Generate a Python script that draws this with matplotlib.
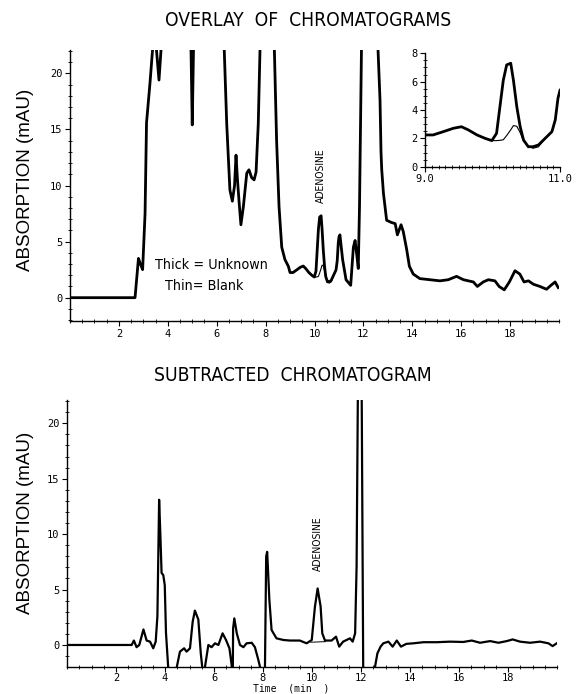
import matplotlib
matplotlib.use("Agg")
import matplotlib.pyplot as plt
from matplotlib.ticker import MultipleLocator, FixedLocator
from matplotlib import font_manager
from matplotlib.font_manager import FontProperties

# ---------------- data ----------------
t_top = [0.0, 2.66, 2.72, 2.80, 2.88, 2.97, 3.07, 3.13, 3.27, 3.38, 3.46, 3.54, 3.64, 3.72, 3.80,
         4.85, 4.95, 5.00, 5.05, 5.12, 6.20, 6.31, 6.41, 6.54, 6.64, 6.73, 6.79, 6.85, 6.91, 6.99,
         7.09, 7.23, 7.32, 7.43, 7.53, 7.61, 7.70, 7.77, 7.85, 8.28, 8.36, 8.45, 8.55, 8.66, 8.79,
         8.93, 9.00, 9.12, 9.27, 9.42, 9.54, 9.64, 9.77, 9.89, 9.99, 10.06, 10.11, 10.16, 10.21,
         10.27, 10.31, 10.36, 10.41, 10.46, 10.53, 10.60, 10.68, 10.78, 10.88, 10.93, 10.97, 11.00,
         11.04, 11.15, 11.29, 11.48, 11.59, 11.66, 11.72, 11.79, 11.84, 11.88, 11.92, 12.00, 12.50,
         12.60, 12.68, 12.72, 12.75, 12.82, 12.95, 13.15, 13.30, 13.39, 13.54, 13.63, 13.77, 13.88,
         14.04, 14.31, 14.72, 15.13, 15.47, 15.81, 16.09, 16.50, 16.66, 16.90, 17.11, 17.38, 17.55,
         17.76, 17.97, 18.20, 18.40, 18.57, 18.75, 18.95, 19.22, 19.49, 19.67, 19.84, 19.97]

unknown_top = [0.0, 0.0, 1.5, 3.5, 3.0, 2.5, 7.5, 15.6, 19.1, 22.2, 24.0, 22.0, 19.4, 22.0, 30,
               30, 22.0, 15.4, 22.0, 30, 30, 22.0, 15.5, 9.6, 8.6, 10.0, 12.7, 10.5, 8.7, 6.5,
               8.1, 11.1, 11.4, 10.7, 10.5, 11.2, 15.5, 22.0, 30, 30, 22.0, 14.0, 8.1, 4.5, 3.4,
               2.8, 2.24, 2.24, 2.47, 2.71, 2.82, 2.6, 2.24, 2.0, 1.84, 2.35, 4.23, 6.1, 7.18,
               7.3, 6.1, 4.23, 2.82, 1.88, 1.41, 1.41, 1.53, 2.0, 2.47, 3.3, 4.83, 5.4,
               5.6, 3.4, 1.6, 1.1, 4.5, 5.1, 4.0, 2.6, 8.0, 15.0, 22.0, 30, 30,
               22.0, 17.6, 13.0, 11.4, 9.3, 6.9, 6.7, 6.6, 5.6, 6.5, 5.9, 4.3, 2.8,
               2.1, 1.7, 1.6, 1.5, 1.6, 1.9, 1.6, 1.4, 1.0, 1.4, 1.6, 1.5, 1.0,
               0.7, 1.4, 2.4, 2.1, 1.4, 1.5, 1.2, 1.0, 0.75, 1.1, 1.4, 0.9]

blank_top = [0.0, 0.0, 1.5, 3.5, 3.0, 2.5, 7.5, 15.6, 19.1, 22.2, 24.0, 22.0, 19.4, 22.0, 30,
             30, 22.0, 15.4, 22.0, 30, 30, 22.0, 15.5, 9.6, 8.6, 10.0, 12.7, 10.5, 8.7, 6.5,
             8.1, 11.1, 11.4, 10.7, 10.5, 11.2, 15.5, 22.0, 30, 30, 22.0, 14.0, 8.1, 4.5, 3.4,
             2.8, 2.24, 2.24, 2.47, 2.71, 2.82, 2.6, 2.24, 2.0, 1.84, 1.84, 1.86, 1.9, 2.2,
             2.6, 2.9, 2.85, 2.4, 1.8, 1.45, 1.3, 1.4, 2.0, 2.47, 3.3, 4.83, 5.4,
             5.6, 3.4, 1.6, 1.1, 4.5, 5.1, 4.0, 2.6, 8.0, 15.0, 22.0, 30, 30,
             22.0, 17.6, 13.0, 11.4, 9.3, 6.9, 6.7, 6.6, 5.6, 6.5, 5.9, 4.3, 2.8,
             2.1, 1.7, 1.6, 1.5, 1.6, 1.9, 1.6, 1.4, 1.0, 1.4, 1.6, 1.5, 1.0,
             0.7, 1.4, 2.4, 2.1, 1.4, 1.5, 1.2, 1.0, 0.75, 1.1, 1.4, 0.9]

t_sub = [0.0, 2.64, 2.73, 2.84, 2.95, 3.12, 3.25, 3.39, 3.52, 3.62, 3.69, 3.76, 3.81, 3.86, 3.93,
         3.99, 4.04, 4.13, 4.18, 4.43, 4.48, 4.61, 4.78, 4.88, 5.02, 5.13, 5.22, 5.36, 5.46, 5.52,
         5.55, 5.60, 5.63, 5.77, 5.90, 6.04, 6.18, 6.35, 6.49, 6.63, 6.72, 6.745, 6.765, 6.78, 6.83,
         6.93, 7.06, 7.20, 7.33, 7.54, 7.67, 7.81, 7.88, 7.92, 8.06, 8.08, 8.13, 8.17, 8.21, 8.26,
         8.35, 8.55, 8.83, 9.10, 9.50, 9.78, 9.99, 10.12, 10.23, 10.35, 10.42, 10.53, 10.80, 10.98,
         11.11, 11.27, 11.55, 11.66, 11.76, 11.82, 11.87, 11.92, 12.00, 12.03, 12.09, 12.12, 12.52,
         12.57, 12.67, 12.80, 12.91, 13.12, 13.29, 13.46, 13.63, 13.85, 14.14, 14.55, 15.10, 15.63,
         16.17, 16.52, 16.86, 17.27, 17.61, 17.95, 18.19, 18.49, 18.90, 19.31, 19.65, 19.82, 19.99]

subtracted = [0.0, 0.0, 0.4, -0.2, 0.0, 1.4, 0.4, 0.3, -0.3, 0.3, 2.6, 13.1, 10.0, 6.5, 6.3,
              5.4, 1.1, -2.0, -4.0, -4.0, -2.0, -0.6, -0.3, -0.6, -0.3, 2.1, 3.1, 2.3, -0.75, -2.0,
              -4.0, -4.0, -2.0, 0.0, -0.2, 0.15, 0.0, 1.05, 0.45, -0.3, -1.8, -3.0, -3.0, 1.5, 2.4,
              1.05, 0.0, -0.2, 0.15, 0.2, -0.2, -1.35, -2.0, -4.0, -4.0, -2.0, 8.0, 8.4, 6.5, 4.06,
              1.35, 0.6, 0.45, 0.4, 0.4, 0.15, 0.45, 3.46, 5.1, 3.5, 1.05, 0.4, 0.4, 0.75,
              -0.15, 0.3, 0.6, 0.3, 1.05, 7.06, 22.0, 30, 30, 22.0, -2.0, -4.0, -4.0,
              -2.0, -0.75, -0.15, 0.15, 0.3, -0.15, 0.4, -0.15, 0.1, 0.15, 0.25, 0.25, 0.3,
              0.27, 0.4, 0.2, 0.35, 0.2, 0.35, 0.5, 0.3, 0.2, 0.3, 0.15, -0.1, 0.15]

adenosine_baseline_t = [9.95, 10.55]
adenosine_baseline_v = [0.25, 0.3]

x_ticks = [2, 4, 6, 8, 10, 12, 14, 16, 18]
y_ticks = [0, 5, 10, 15, 20]
inset_x_ticks = [9.0, 11.0]
inset_x_labels = ["9.0", "11.0"]
inset_y_ticks = [0, 2, 4, 6, 8]

# ---------------- fonts ----------------
ttf = font_manager.fontManager.ttflist
cond_path = None
for f in ttf:
    nm = f.name.lower()
    fn = f.fname.lower()
    if f.style == "normal" and f.weight in (400, "normal", "regular") and (
            "narrow" in nm or "condensed" in nm or "condensed" in fn or "narrow" in fn
            or f.stretch in ("condensed", "semi-condensed")) and "mono" not in nm \
            and "serif" not in nm.replace("sans", ""):
        cond_path = f.fname
        break
avail = {f.name for f in ttf}
SANS = "Liberation Sans" if "Liberation Sans" in avail else "DejaVu Sans"
MONO = "DejaVu Sans Mono"


def cfont(size):
    if cond_path:
        return FontProperties(fname=cond_path, size=size)
    return FontProperties(family=SANS, size=size * 0.9)


W, H = 578, 694
fig = plt.figure(figsize=(W / 100, H / 100), dpi=100)
fig.patch.set_facecolor("white")


def style_axes(ax, xt, yt, fs=7.5):
    for s in ("top", "right"):
        ax.spines[s].set_visible(False)
    for s in ("left", "bottom"):
        ax.spines[s].set_linewidth(1.0)
    ax.xaxis.set_major_locator(FixedLocator(xt))
    ax.yaxis.set_major_locator(FixedLocator(yt))
    ax.tick_params(which="major", direction="out", length=3.5, width=0.8, pad=2,
                   labelsize=fs, colors="black")
    ax.tick_params(which="minor", direction="inout", length=3, width=0.6)
    for lab in ax.get_xticklabels() + ax.get_yticklabels():
        lab.set_family(MONO)
    ax.set_facecolor("white")


# ---------------- top: overlay ----------------
ax1 = fig.add_axes([70 / W, 1 - 321 / H, 489 / W, 271 / H])
ax1.plot(t_top, unknown_top, color="black", lw=2.0, solid_joinstyle="round")
ax1.plot(t_top, blank_top, color="black", lw=0.8)
ax1.set_xlim(0, 20)
ax1.set_ylim(-2.08, 22.08)
style_axes(ax1, x_ticks, y_ticks)
ax1.xaxis.set_minor_locator(MultipleLocator(0.5))
ax1.yaxis.set_minor_locator(MultipleLocator(1))
ax1.text(10.25, 10.9, "ADENOSINE", rotation=90, ha="center", va="center",
         fontproperties=cfont(7.5))
ax1.text(5.8, 2.9, "Thick = Unknown", ha="center", va="center", fontproperties=cfont(10.3))
ax1.text(5.5, 1.0, "Thin= Blank", ha="center", va="center", fontproperties=cfont(10.3))

# inset
axi = fig.add_axes([425 / W, 1 - 166.7 / H, 135 / W, 113.4 / H])
axi.plot(t_top, unknown_top, color="black", lw=2.0, solid_joinstyle="round")
axi.plot(t_top, blank_top, color="black", lw=0.8)
axi.set_xlim(9.0, 11.0)
axi.set_ylim(0, 8)
style_axes(axi, inset_x_ticks, inset_y_ticks)
axi.set_xticklabels(inset_x_labels, family=MONO)
axi.xaxis.set_minor_locator(MultipleLocator(0.1))
axi.yaxis.set_minor_locator(MultipleLocator(0.5))
axi.patch.set_alpha(0)

# ---------------- bottom: subtracted ----------------
ax2 = fig.add_axes([67 / W, 1 - 666.7 / H, 490 / W, 266.7 / H])
ax2.plot(t_sub, subtracted, color="black", lw=1.6, solid_joinstyle="round")
ax2.plot(adenosine_baseline_t, adenosine_baseline_v, color="black", lw=0.7)
ax2.set_xlim(0, 20)
ax2.set_ylim(-1.96, 22.1)
style_axes(ax2, x_ticks, y_ticks)
ax2.tick_params(axis="x", which="major", pad=1.2)
ax2.xaxis.set_minor_locator(MultipleLocator(0.5))
ax2.yaxis.set_minor_locator(MultipleLocator(1))
ax2.text(10.26, 9.15, "ADENOSINE", rotation=90, ha="center", va="center",
         fontproperties=cfont(7.5))

# ---------------- figure texts ----------------
fig.text(308 / W, 1 - 21 / H, "OVERLAY  OF  CHROMATOGRAMS", ha="center", va="center",
         fontproperties=cfont(13.8))
fig.text(293 / W, 1 - 375.5 / H, "SUBTRACTED  CHROMATOGRAM", ha="center", va="center",
         fontproperties=cfont(13.8))
fig.text(26 / W, 1 - 180 / H, "ABSORPTION (mAU)", rotation=90, ha="center", va="center",
         fontsize=13.5, family=SANS)
fig.text(26 / W, 1 - 523 / H, "ABSORPTION (mAU)", rotation=90, ha="center", va="center",
         fontsize=13.5, family=SANS)
fig.text(291.5 / W, 0.3 / H, "Time  (min  )", ha="center", va="bottom",
         fontsize=7, family=MONO)

fig.savefig("out.png", dpi=100, facecolor="white")
